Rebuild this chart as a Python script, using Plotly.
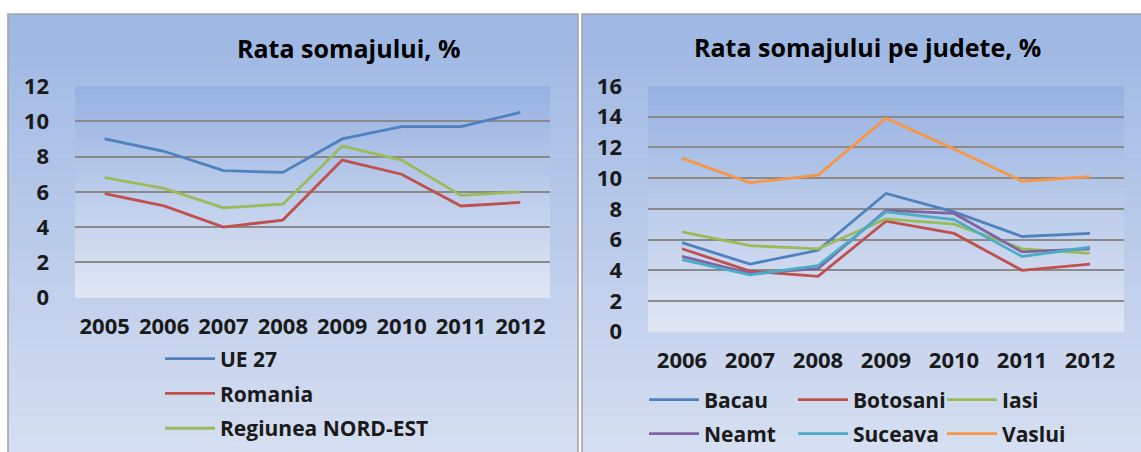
import plotly.graph_objects as go

W, H = 1141, 452

years_left = ["2005", "2006", "2007", "2008", "2009", "2010", "2011", "2012"]
ue27 = [9.0, 8.3, 7.2, 7.1, 9.0, 9.7, 9.7, 10.5]
romania = [5.9, 5.2, 4.0, 4.4, 7.8, 7.0, 5.2, 5.4]
nord_est = [6.8, 6.2, 5.1, 5.3, 8.6, 7.8, 5.8, 6.0]

years_right = ["2006", "2007", "2008", "2009", "2010", "2011", "2012"]
bacau = [5.8, 4.4, 5.3, 9.0, 7.8, 6.2, 6.4]
botosani = [5.4, 3.95, 3.6, 7.2, 6.4, 4.0, 4.4]
iasi = [6.5, 5.6, 5.4, 7.35, 7.0, 5.4, 5.1]
neamt = [4.9, 3.8, 4.1, 7.9, 7.7, 5.2, 5.4]
suceava = [4.7, 3.7, 4.3, 7.8, 7.3, 4.9, 5.5]
vaslui = [11.3, 9.7, 10.2, 13.9, 11.9, 9.8, 10.1]

left_title = "Rata somajului, %"
right_title = "Rata somajului pe judete, %"

BLUE, RED, GREEN = "#4F81BD", "#C0504D", "#9BBB59"
PURPLE, TEAL, ORANGE = "#8064A2", "#4BACC6", "#F79646"

FONT = "Open Sans"
TXT = "#1a1a1a"


def px(x):
    return x / W


def py(y):
    return 1 - y / H


fig = go.Figure()

left_series = [("UE 27", ue27, BLUE), ("Romania", romania, RED),
               ("Regiunea NORD-EST", nord_est, GREEN)]
for name, vals, col in left_series:
    fig.add_trace(go.Scatter(x=years_left, y=vals, name=name, mode="lines",
                             line=dict(color=col, width=2.8),
                             xaxis="x", yaxis="y", legend="legend",
                             legendgroup=name))

right_series = [("Bacau", bacau, BLUE, "legend2"), ("Botosani", botosani, RED, "legend2"),
                ("Iasi", iasi, GREEN, "legend2"), ("Neamt", neamt, PURPLE, "legend3"),
                ("Suceava", suceava, TEAL, "legend3"), ("Vaslui", vaslui, ORANGE, "legend3")]
for name, vals, col, lg in right_series:
    fig.add_trace(go.Scatter(x=years_right, y=vals, name=name, mode="lines",
                             line=dict(color=col, width=2.8),
                             xaxis="x2", yaxis="y2", legend=lg))

shapes = []


def mix(c1, c2, t):
    return "rgb(%d,%d,%d)" % tuple(round(a + (b - a) * t) for a, b in zip(c1, c2))


def gradient(x0, x1, y0, y1, ctop, cbot, n=50):
    step = (y1 - y0) / n
    for i in range(n):
        ya = y0 + i * step
        yb = ya + step + 0.6
        shapes.append(dict(type="rect", xref="paper", yref="paper",
                           x0=px(x0), x1=px(x1), y0=py(min(yb, y1)), y1=py(ya),
                           fillcolor=mix(ctop, cbot, (i + 0.5) / n),
                           line=dict(width=0), layer="below"))


panel_top = (156, 182, 227)
panel_bot = (214, 223, 241)
plot_top = (150, 177, 225)
plot_bot = (225, 231, 244)

# panels
gradient(8, 578, 14, H, panel_top, panel_bot)
gradient(582, W, 14, H, panel_top, panel_bot)
# plot areas
gradient(75, 550, 86, 297.7, plot_top, plot_bot)
gradient(648, 1124, 86, 331.7, plot_top, plot_bot)
# borders
for x0, x1 in [(8, 578), (582, W + 5)]:
    shapes.append(dict(type="rect", xref="paper", yref="paper",
                       x0=px(x0), x1=px(x1), y0=py(H + 5), y1=py(14),
                       line=dict(color="#a6a6a6", width=1.6), fillcolor="rgba(0,0,0,0)",
                       layer="below"))

tfont = dict(family=FONT, size=22, color=TXT, weight="bold")
lfont = dict(family=FONT, size=21, color=TXT, weight="bold")
grid = dict(showgrid=True, gridcolor="#8a8a8a", gridwidth=2, zeroline=False,
            showline=False, ticks="", tickfont=tfont)

fig.update_layout(
    width=W, height=H,
    margin=dict(l=0, r=0, t=0, b=0, autoexpand=False),
    paper_bgcolor="white",
    plot_bgcolor="rgba(0,0,0,0)",
    showlegend=True,
    shapes=shapes,
    xaxis=dict(domain=[px(75), px(550)], anchor="y", type="category",
               range=[-0.5, 7.5], showgrid=False, zeroline=False, showline=False,
               ticks="", ticklabelstandoff=13, tickfont=tfont),
    yaxis=dict(domain=[py(297.7), py(86)], anchor="x", range=[0, 12], dtick=2,
               ticklabelstandoff=25, **grid),
    xaxis2=dict(domain=[px(648), px(1124)], anchor="y2", type="category",
                range=[-0.5, 6.5], showgrid=False, zeroline=False, showline=False,
                ticks="", ticklabelstandoff=13, tickfont=tfont),
    yaxis2=dict(domain=[py(331.7), py(86)], anchor="x2", range=[0, 16], dtick=2,
                ticklabelstandoff=25, **grid),
    legend=dict(x=px(160), y=py(338.5), xanchor="left", yanchor="top",
                orientation="v", bgcolor="rgba(0,0,0,0)", tracegroupgap=4.5,
                itemwidth=50, font=lfont),
    legend2=dict(x=px(644), y=py(400), xanchor="left", yanchor="middle",
                 orientation="h", bgcolor="rgba(0,0,0,0)", entrywidth=84,
                 itemwidth=50, font=lfont),
    legend3=dict(x=px(644), y=py(434), xanchor="left", yanchor="middle",
                 orientation="h", bgcolor="rgba(0,0,0,0)", entrywidth=84,
                 itemwidth=50, font=lfont),
    annotations=[
        dict(text="<b>%s</b>" % left_title, x=px(348.5), y=py(48), xref="paper", yref="paper",
             xanchor="center", yanchor="middle",
             showarrow=False, font=dict(family=FONT, size=25, color="black")),
        dict(text="<b>%s</b>" % right_title, x=px(867), y=py(47), xref="paper", yref="paper",
             xanchor="center", yanchor="middle",
             showarrow=False, font=dict(family=FONT, size=25, color="black")),
    ],
)

fig.write_html("out.html", post_script="document.body.style.margin='0';",
               config={"displayModeBar": False})
